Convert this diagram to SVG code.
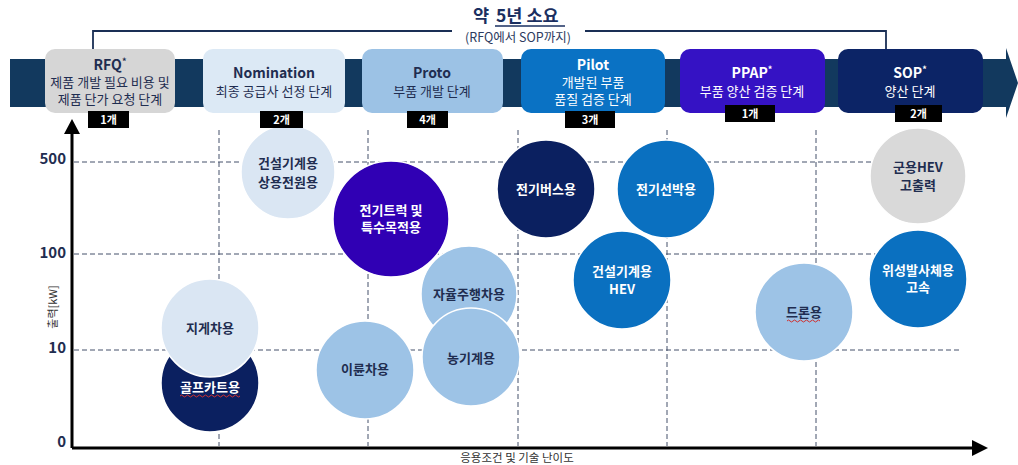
<svg xmlns="http://www.w3.org/2000/svg" width="1018" height="465" viewBox="0 0 1018 465">
<style>
text{font-family:"Noto Sans CJK KR","Noto Sans",sans-serif;}
.st{font-size:14px;font-weight:700;text-anchor:middle;}
.sd{font-size:13px;text-anchor:middle;}
.dk{fill:#1f2d50;}
.wt{fill:#ffffff;}
.cnt{fill:#000;}
.cnt-t{font-size:11px;font-weight:700;fill:#fff;text-anchor:middle;}
.grid{stroke:#44506a;stroke-width:1;stroke-dasharray:5 3;fill:none;}
.bub{stroke:#ffffff;stroke-width:1.5;}
.bt{font-size:13px;font-weight:700;text-anchor:middle;}
.yl{font-size:15px;font-weight:700;fill:#1f2d50;text-anchor:end;}
.sq{fill:none;stroke:#d03030;stroke-width:1;}
</style>
<rect width="1018" height="465" fill="#ffffff"/>
<g id="band">
<path d="M10 59 H1006 V48 L1018 83 L1006 118 V107 H10 Z" fill="#12395e"/>
</g>
<g id="connectors">
<path d="M93 50 V31 H452" fill="none" stroke="#1a2f55" stroke-width="1.8"/>
<path d="M585 31 H886 V50" fill="none" stroke="#1a2f55" stroke-width="1.8"/>
<line x1="72" y1="448" x2="72" y2="132" stroke="#000" stroke-width="3"/>
<path d="M64 134 L72 119 L80 134 Z" fill="#000"/>
<line x1="72" y1="448" x2="974" y2="448" stroke="#000" stroke-width="3"/>
<path d="M972 440 L988 448 L972 456 Z" fill="#000"/>
</g>
<g id="title">
<text x="481" y="22" font-size="17.5" font-weight="700" fill="#1a2f60" text-anchor="middle">약</text>
<text x="496" y="22" font-size="17.5" font-weight="700" fill="#1a2f60">5년 소요</text>
<line x1="495" y1="26" x2="565" y2="26" stroke="#1a2f60" stroke-width="1.6"/>
<text x="518" y="42" font-size="12.5" fill="#2d3b60" text-anchor="middle">(RFQ에서 SOP까지)</text>
</g>
<g id="grid">
<line class="grid" x1="74" y1="162" x2="960" y2="162"/>
<line class="grid" x1="74" y1="254" x2="960" y2="254"/>
<line class="grid" x1="74" y1="350" x2="960" y2="350"/>
<line class="grid" x1="219" y1="130" x2="219" y2="446"/>
<line class="grid" x1="368" y1="130" x2="368" y2="446"/>
<line class="grid" x1="518" y1="130" x2="518" y2="446"/>
<line class="grid" x1="667" y1="130" x2="667" y2="446"/>
<line class="grid" x1="816" y1="130" x2="816" y2="446"/>
</g>
<g id="axis-labels">
<text class="yl" x="66" y="164">500</text>
<text class="yl" x="66" y="258">100</text>
<text class="yl" x="66" y="353">10</text>
<text class="yl" x="66" y="447">0</text>
<text x="57" y="307" font-size="11" fill="#333" text-anchor="middle" transform="rotate(-90 57 307)">출력[kW]</text>
<text x="517" y="462" font-size="11.5" fill="#333" text-anchor="middle">응용조건 및 기술 난이도</text>
</g>
<g id="b-construction-power">
<circle class="bub" cx="288" cy="172" r="47" fill="#dae6f3"/>
<text class="bt dk" x="288" y="168">건설기계용</text>
<text class="bt dk" x="288" y="187">상용전원용</text>
</g>
<g id="b-truck">
<circle class="bub" cx="391" cy="219" r="58" fill="#3000b4"/>
<text class="bt wt" x="391" y="215">전기트럭 및</text>
<text class="bt wt" x="391" y="232">특수목적용</text>
</g>
<g id="b-golf">
<circle class="bub" cx="210" cy="383" r="49" fill="#0b2060"/>
<text class="bt wt" x="210" y="392">골프카트용</text>
<path class="sq" d="M180 396 q1.5 -2 3 0 t3 0 t3 0 t3 0 t3 0 t3 0 t3 0 t3 0 t3 0 t3 0 t3 0 t3 0 t3 0 t3 0 t3 0 t3 0 t3 0 t3 0 t3 0 t3 0"/>
</g>
<g id="b-forklift">
<circle class="bub" cx="210" cy="328" r="49" fill="#dae6f3"/>
<text class="bt dk" x="210" y="333">지게차용</text>
</g>
<g id="b-twowheel">
<circle class="bub" cx="365" cy="370" r="49" fill="#9dc3e6"/>
<text class="bt dk" x="365" y="374">이륜차용</text>
</g>
<g id="b-autonomous">
<circle class="bub" cx="469" cy="294" r="48" fill="#9dc3e6"/>
<text class="bt dk" x="469" y="299">자율주행차용</text>
</g>
<g id="b-agri">
<circle class="bub" cx="471" cy="357" r="49" fill="#9dc3e6"/>
<text class="bt dk" x="471" y="363">농기계용</text>
</g>
<g id="b-bus">
<circle class="bub" cx="546" cy="189" r="49" fill="#0b2060"/>
<text class="bt wt" x="546" y="194">전기버스용</text>
</g>
<g id="b-ship">
<circle class="bub" cx="666" cy="189" r="49" fill="#0a70c0"/>
<text class="bt wt" x="666" y="194">전기선박용</text>
</g>
<g id="b-construction-hev">
<circle class="bub" cx="622" cy="280" r="49" fill="#0a70c0"/>
<text class="bt wt" x="622" y="276">건설기계용</text>
<text class="bt wt" x="622" y="294">HEV</text>
</g>
<g id="b-drone">
<circle class="bub" cx="804" cy="312" r="49" fill="#9dc3e6"/>
<text class="bt dk" x="804" y="317">드론용</text>
<path class="sq" d="M787 321 q1.5 -2 3 0 t3 0 t3 0 t3 0 t3 0 t3 0 t3 0 t3 0 t3 0 t3 0 t3 0"/>
</g>
<g id="b-military">
<circle class="bub" cx="918" cy="176" r="48" fill="#d9d9d9"/>
<text class="bt dk" x="918" y="172">군용HEV</text>
<text class="bt dk" x="918" y="190">고출력</text>
</g>
<g id="b-satellite">
<circle class="bub" cx="918" cy="279" r="49" fill="#0a70c0"/>
<text class="bt wt" x="918" y="275">위성발사체용</text>
<text class="bt wt" x="918" y="292">고속</text>
</g>
<g id="stage-rfq">
<rect x="45" y="49" width="130" height="64" rx="10" fill="#d6d6d6"/>
<text class="st dk" x="110" y="70">RFQ<tspan font-size="9" dy="-5">*</tspan></text>
<text class="sd dk" x="110" y="87">제품 개발 필요 비용 및</text>
<text class="sd dk" x="110" y="104">제품 단가 요청 단계</text>
<rect class="cnt" x="88" y="111" width="41" height="17"/>
<text class="cnt-t" x="108.5" y="124">1개</text>
</g>
<g id="stage-nomination">
<rect x="203" y="49" width="142" height="64" rx="10" fill="#dce9f5"/>
<text class="st dk" x="274" y="78">Nomination</text>
<text class="sd dk" x="274" y="96">최종 공급사 선정 단계</text>
<rect class="cnt" x="260" y="111" width="43" height="17"/>
<text class="cnt-t" x="281.5" y="124">2개</text>
</g>
<g id="stage-proto">
<rect x="362" y="49" width="141" height="64" rx="10" fill="#9cc2e5"/>
<text class="st dk" x="432" y="78">Proto</text>
<text class="sd dk" x="432" y="96">부품 개발 단계</text>
<rect class="cnt" x="407" y="111" width="41" height="17"/>
<text class="cnt-t" x="427.5" y="124">4개</text>
</g>
<g id="stage-pilot">
<rect x="521" y="49" width="144" height="64" rx="10" fill="#0a72c4"/>
<text class="st wt" x="593" y="70">Pilot</text>
<text class="sd wt" x="593" y="87">개발된 부품</text>
<text class="sd wt" x="593" y="104">품질 검증 단계</text>
<rect class="cnt" x="565" y="111" width="50" height="17"/>
<text class="cnt-t" x="590" y="124">3개</text>
</g>
<g id="stage-ppap">
<rect x="680" y="49" width="145" height="64" rx="10" fill="#3512c4"/>
<text class="st wt" x="752" y="78">PPAP<tspan font-size="9" dy="-5">*</tspan></text>
<text class="sd wt" x="752" y="96">부품 양산 검증 단계</text>
<rect class="cnt" x="725" y="105" width="50" height="17"/>
<text class="cnt-t" x="750" y="118">1개</text>
</g>
<g id="stage-sop">
<rect x="838" y="49" width="145" height="64" rx="10" fill="#0c2466"/>
<text class="st wt" x="910" y="78">SOP<tspan font-size="9" dy="-5">*</tspan></text>
<text class="sd wt" x="910" y="96">양산 단계</text>
<rect class="cnt" x="895" y="105" width="47" height="17"/>
<text class="cnt-t" x="918.5" y="118">2개</text>
</g>
</svg>
